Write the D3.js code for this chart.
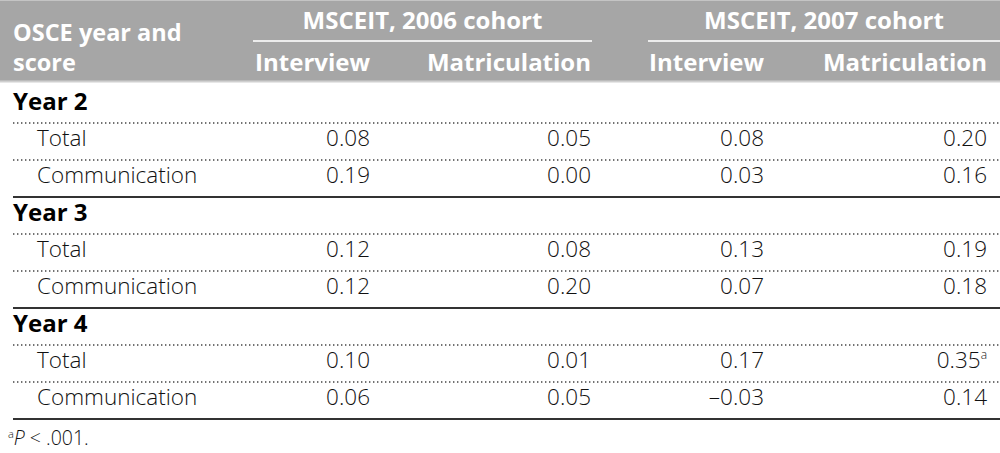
<!DOCTYPE html>
<html><head><meta charset="utf-8">
<script src="https://cdn.jsdelivr.net/npm/d3@7"></script>
<style>
html,body{margin:0;padding:0;background:#fff;}
svg{display:block;}
text{font-family:"Open Sans","Noto Sans",sans-serif;}
</style></head>
<body><svg id="t" width="1000" height="453"></svg>
<script>
const stubHeader = ["OSCE year and", "score"];
const cohorts = ["MSCEIT, 2006 cohort", "MSCEIT, 2007 cohort"];
const measures = ["Interview", "Matriculation"];
const years = ["Year 2", "Year 3", "Year 4"];
const scores = ["Total", "Communication"];
const interview2006 = [0.08, 0.19, 0.12, 0.12, 0.10, 0.06];
const matric2006    = [0.05, 0.00, 0.08, 0.20, 0.01, 0.05];
const interview2007 = [0.08, 0.03, 0.13, 0.07, 0.17, -0.03];
const matric2007    = [0.20, 0.16, 0.19, 0.18, 0.35, 0.14];
const marks2007M    = ["", "", "", "", "a", ""];
const footnote = { mark: "a", text: "P", rest: " < .001." };

const svg = d3.select("#t");
const W = 1000;
const fmt = v => d3.format(".2f")(v).replace("\u2212", "\u2013").replace("-", "\u2013");

const columns = [
  {key: "i06", values: interview2006, marks: null},
  {key: "m06", values: matric2006, marks: null},
  {key: "i07", values: interview2007, marks: null},
  {key: "m07", values: matric2007, marks: marks2007M}
];
const colRight = d3.scaleOrdinal().domain(columns.map(c => c.key)).range([370, 591, 764, 987]);
const cohortSpan = d3.scaleOrdinal().domain(cohorts).range([[253, 592], [648, 1000]]);

// header band
const headH = 81;
svg.append("rect").attr("x", 0).attr("y", 0).attr("width", W).attr("height", headH).attr("fill", "#a6a6a6");
svg.append("line").attr("x1", 0).attr("x2", W).attr("y1", 0.5).attr("y2", 0.5).attr("stroke", "#c4c4c4");
svg.append("line").attr("x1", 0).attr("x2", W).attr("y1", headH + 0.5).attr("y2", headH + 0.5).attr("stroke", "#cfcfcf").attr("stroke-width", 2);

const hdr = svg.append("g").attr("fill", "#fff").attr("font-weight", 700).attr("font-size", 24);
hdr.selectAll(".stub").data(stubHeader).join("text")
  .attr("x", 13).attr("y", (d, i) => 41 + i * 30).attr("font-size", 23.5).text(d => d);

cohorts.forEach((c, ci) => {
  const [a, b] = cohortSpan(c);
  hdr.append("text").attr("x", (a + b) / 2).attr("y", 29).attr("text-anchor", "middle").text(c);
  svg.append("line").attr("x1", a).attr("x2", b).attr("y1", 41).attr("y2", 41)
    .attr("stroke", "#ececec").attr("stroke-width", 2);
  measures.forEach((m, mi) => {
    hdr.append("text").attr("x", colRight(columns[ci * 2 + mi].key)).attr("y", 71)
      .attr("text-anchor", "end").text(m);
  });
});

// body rows
const rows = [];
years.forEach((y, yi) => {
  rows.push({type: "group", label: y});
  scores.forEach((s, si) => rows.push({type: "data", label: s, idx: yi * 2 + si, last: si === scores.length - 1}));
});
const yBand = d3.scaleBand().domain(d3.range(rows.length)).range([86, 86 + 37 * rows.length]).paddingInner(0);
const base = 23;

const body = svg.append("g").attr("font-size", 22.5).attr("font-weight", 300).attr("fill", "#111");
rows.forEach((r, i) => {
  const top = yBand(i);
  if (r.type === "group") {
    body.append("text").attr("x", 13).attr("y", top + base + 1).attr("font-weight", 700)
      .attr("font-size", 24).attr("fill", "#000").text(r.label);
  } else {
    svg.append("line").attr("x1", 13).attr("x2", W).attr("y1", top).attr("y2", top)
      .attr("stroke", "#444").attr("stroke-width", 1.4).attr("stroke-dasharray", "1.4,2.6");
    body.append("text").attr("x", 37).attr("y", top + base).text(r.label);
    columns.forEach(c => {
      const t = body.append("text").attr("x", colRight(c.key)).attr("y", top + base).attr("text-anchor", "end");
      t.append("tspan").text(fmt(c.values[r.idx]));
      if (c.marks && c.marks[r.idx]) {
        t.append("tspan").attr("font-size", 12).attr("dy", -9).text(c.marks[r.idx]);
      }
    });
    if (r.last) {
      const b = top + yBand.bandwidth();
      svg.append("line").attr("x1", 13).attr("x2", W).attr("y1", b).attr("y2", b)
        .attr("stroke", "#333").attr("stroke-width", 2);
    }
  }
});

// footnote
const fn = svg.append("text").attr("x", 8).attr("y", 445).attr("font-size", 19.5).attr("font-weight", 300).attr("fill", "#111");
fn.append("tspan").attr("font-size", 11).attr("dy", -7).text(footnote.mark);
fn.append("tspan").attr("dy", 7).attr("font-style", "italic").text(footnote.text);
fn.append("tspan").text(footnote.rest);
</script></body></html>
